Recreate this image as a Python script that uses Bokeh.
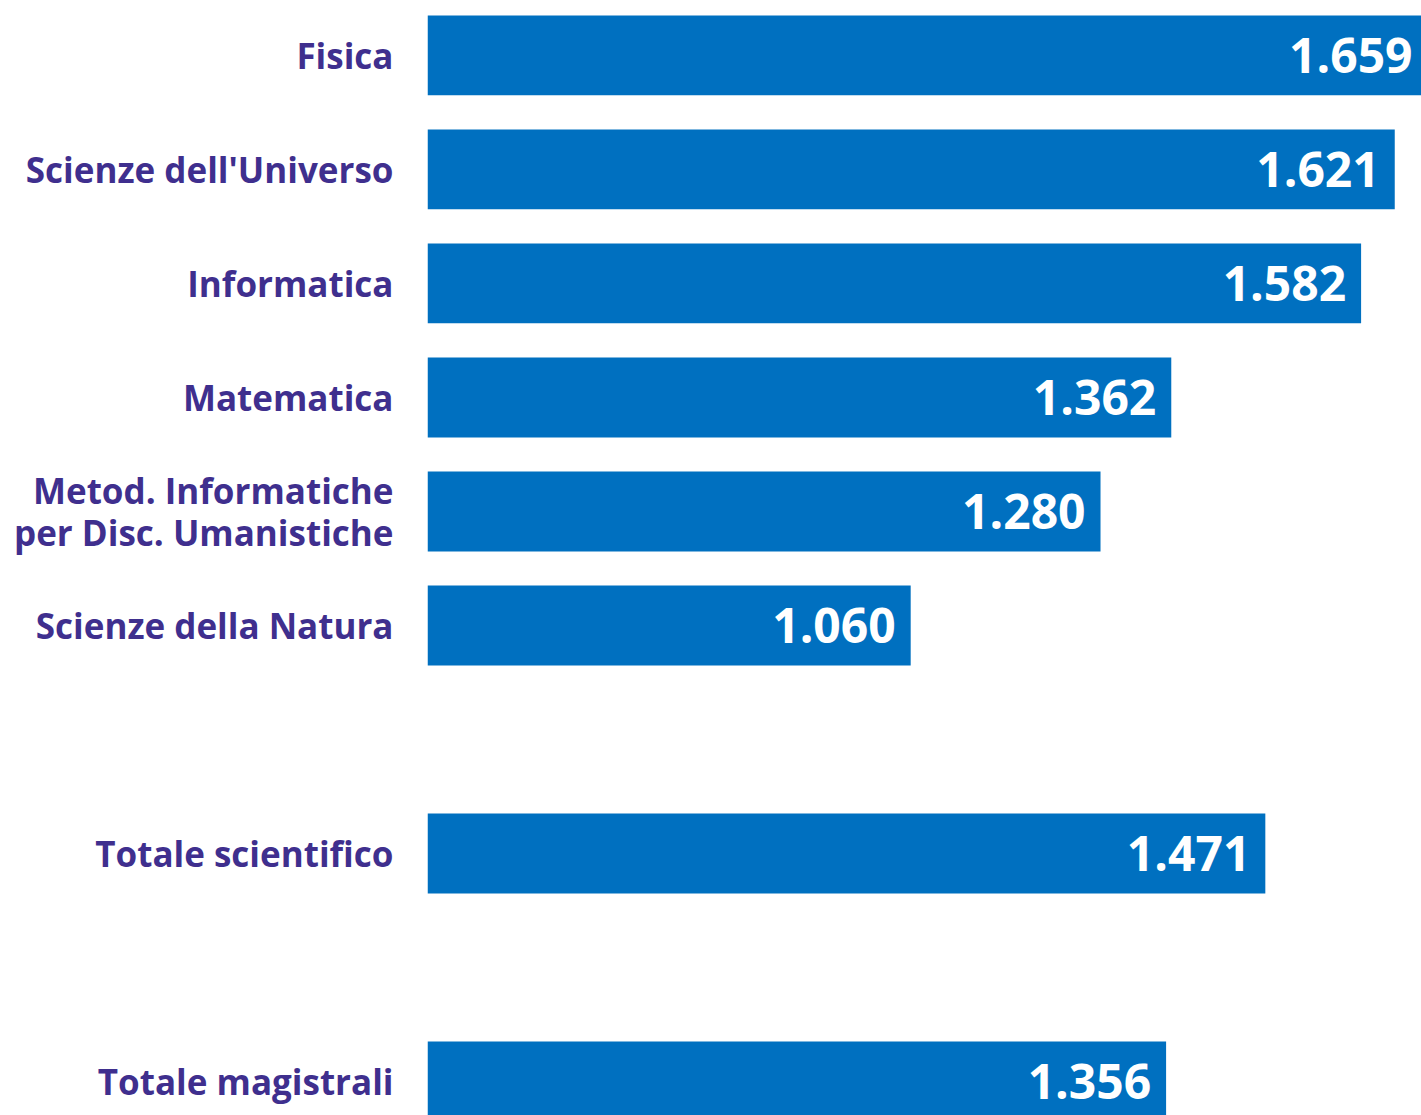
from bokeh.plotting import figure
from bokeh.models import Range1d, FixedTicker, CustomJSTickFormatter, ColumnDataSource
from bokeh.core.properties import value
from bokeh.embed import file_html
from bokeh.resources import INLINE

categories = ["Fisica", "Scienze dell'Universo", "Informatica", "Matematica",
              "Metod. Informatiche\nper Disc. Umanistiche", "Scienze della Natura",
              "Totale scientifico", "Totale magistrali"]
values = [1659, 1621, 1582, 1362, 1280, 1060, 1471, 1356]
groups = ["corsi"] * 6 + ["scientifico", "magistrali"]

# slot positions: one extra empty slot between groups
pos = []
p_ = 0
for i, g in enumerate(groups):
    if i > 0 and g != groups[i - 1]:
        p_ += 1
    pos.append(p_)
    p_ += 1

labels_txt = [f"{v:,}".replace(",", ".") for v in values]

src = ColumnDataSource(dict(y=pos, v=values, lab=labels_txt, base=[500] * len(values)))

BAR = "#0070C0"
TXT = "#3F2F8E"

p = figure(width=1421, height=1115, output_backend="svg", toolbar_location=None,
           x_range=Range1d(500, 1652), y_range=Range1d(9.298, -0.482),
           min_border_left=427, min_border_right=0, min_border_top=0, min_border_bottom=0,
           x_axis_location=None)
p.outline_line_color = None
p.grid.visible = False
p.background_fill_color = "white"
p.border_fill_color = "white"

p.hbar(y="y", left="base", right="v", height=0.7, source=src, color=BAR, line_color=None)
p.text(x="v", y="y", text="lab", source=src, x_offset=-15, text_align="right",
       text_baseline="middle", text_color="white", text_font=value("Open Sans"),
       text_font_style="bold", text_font_size="48px")

lab_map = {str(pp): c for pp, c in zip(pos, categories)}
p.yaxis.ticker = FixedTicker(ticks=pos)
p.yaxis.formatter = CustomJSTickFormatter(args=dict(m=lab_map), code="return m[String(tick)] || '';")
p.yaxis.axis_line_color = None
p.yaxis.major_tick_line_color = None
p.yaxis.minor_tick_line_color = None
p.yaxis.major_tick_out = 0
p.yaxis.major_tick_in = 0
p.yaxis.major_label_standoff = 34
p.yaxis.major_label_text_font = "Open Sans"
p.yaxis.major_label_text_font_style = "bold"
p.yaxis.major_label_text_font_size = "35px"
p.yaxis.major_label_text_line_height = 0.9
p.yaxis.major_label_text_color = TXT
p.yaxis.major_label_text_align = "right"

open("out.html", "w").write(file_html(p, INLINE))
